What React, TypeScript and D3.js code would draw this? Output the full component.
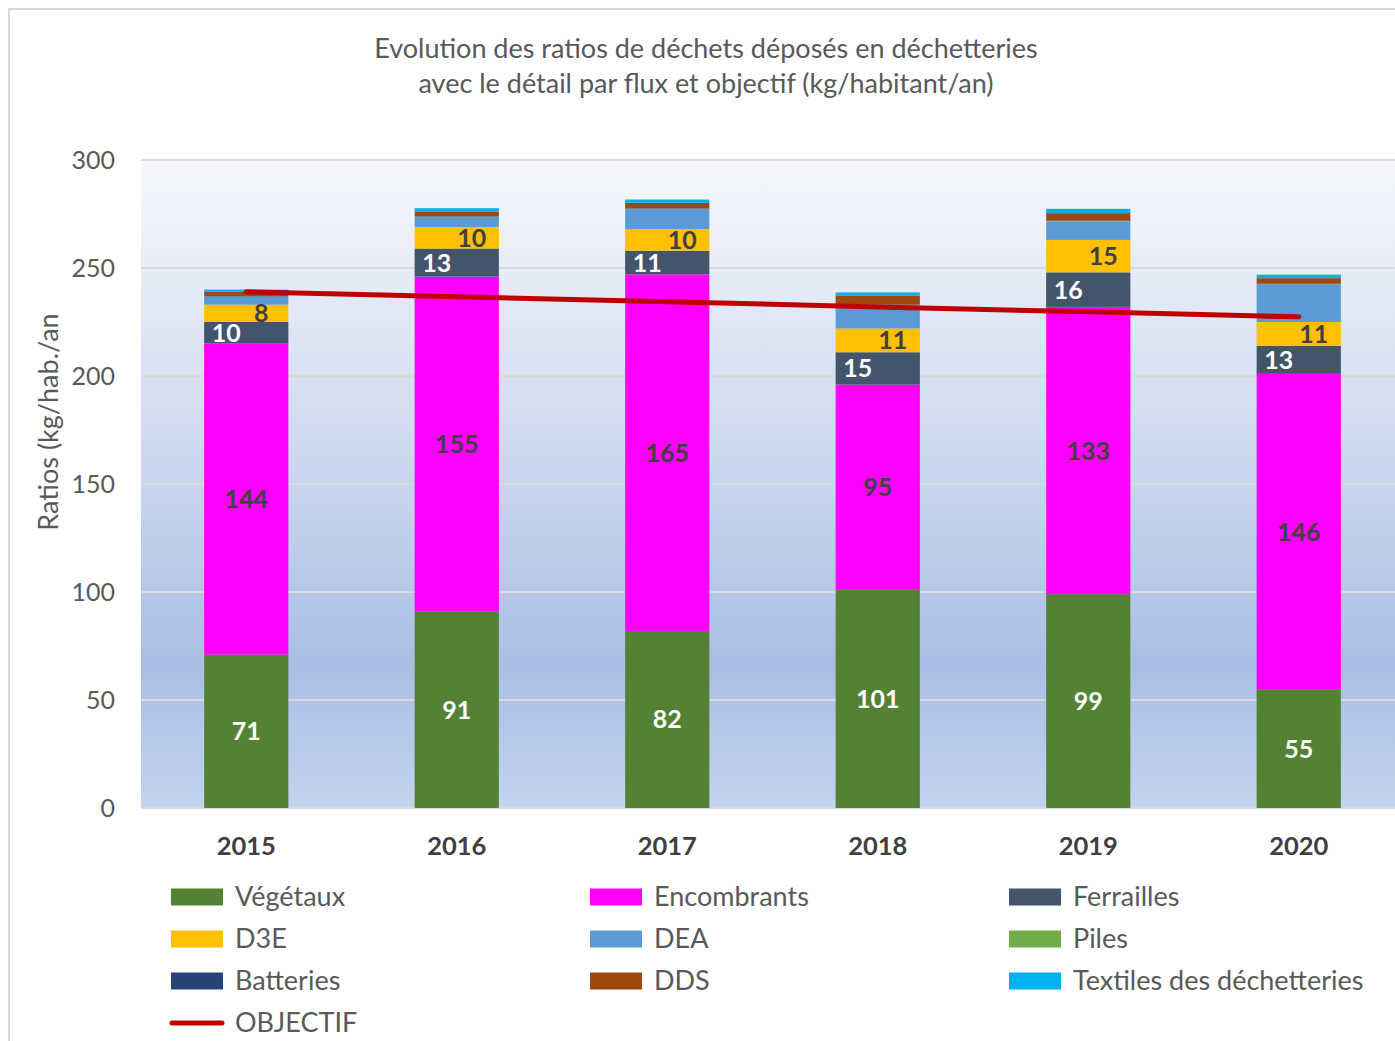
import React from "react";
import * as d3 from "d3";

const years = ["2015", "2016", "2017", "2018", "2019", "2020"];
const vegetaux = [71, 91, 82, 101, 99, 55];
const encombrants = [144, 155, 165, 95, 133, 146];
const ferrailles = [10, 13, 11, 15, 16, 13];
const d3e = [8, 10, 10, 11, 15, 11];
const dea = [3.7, 4.6, 9.3, 10.8, 8.5, 17.4];
const piles = [0.1, 0.1, 0.1, 0.1, 0.2, 0.1];
const batteries = [0.2, 0.2, 0.2, 0.2, 0.3, 0.2];
const dds = [2, 2.3, 2.6, 4.2, 3.4, 2.6];
const textiles = [1, 1.5, 1.5, 1.4, 2, 1.6];
const objectif = [239, 236.7, 234.4, 232.0, 229.7, 227.4];
const yTicks = [0, 50, 100, 150, 200, 250, 300];

const seriesNames = ["Végétaux", "Encombrants", "Ferrailles", "D3E", "DEA", "Piles", "Batteries", "DDS", "Textiles des déchetteries"];
const seriesValues = [vegetaux, encombrants, ferrailles, d3e, dea, piles, batteries, dds, textiles];
const seriesColors = ["#548235", "#ff00ff", "#44546a", "#ffc000", "#5b9bd5", "#70ad47", "#264478", "#9e480e", "#00b0f0"];

const FONT = "Lato, 'Open Sans', sans-serif";

export default function App() {
  const W = 1395, H = 1041;
  const x = d3.scaleBand().domain(years).range([141, 1404]).paddingInner(0.6).paddingOuter(0.3);
  const y = d3.scaleLinear().domain([0, 300]).range([808, 160]);

  const rows = years.map((yr, i) => {
    const r: any = { year: yr };
    seriesNames.forEach((n, k) => (r[n] = seriesValues[k][i]));
    return r;
  });
  const stacked = d3.stack().keys(seriesNames)(rows);

  const line = d3.line<number>()
    .x((_, i) => (x(years[i]) as number) + x.bandwidth() / 2)
    .y((d) => y(d));

  const labelCfg: Record<string, { color: string; dx: number }> = {
    "Végétaux": { color: "#ffffff", dx: 0 },
    "Encombrants": { color: "#404040", dx: 0 },
    "Ferrailles": { color: "#ffffff", dx: -20 },
    "D3E": { color: "#404040", dx: 15 },
  };

  const legendItems = [...seriesNames.map((n, k) => ({ name: n, color: seriesColors[k], line: false })), { name: "OBJECTIF", color: "#c00000", line: true }];
  const colX = [171, 590, 1009];
  const rowY = [897, 939, 981, 1023];

  return (
    <svg width={W} height={H} style={{ position: "absolute", left: 0, top: 0, display: "block" }} fontFamily={FONT}>
      <defs>
        <linearGradient id="bg" x1="0" y1="0" x2="0" y2="1">
          <stop offset="0" stopColor="#f6f8fc" />
          <stop offset="0.45" stopColor="#cdd9ef" />
          <stop offset="0.78" stopColor="#aabee5" />
          <stop offset="1" stopColor="#c3d3ef" />
        </linearGradient>
      </defs>
      <rect x={0} y={0} width={W} height={H} fill="#ffffff" />
      <rect x={9} y={9} width={W + 20} height={H + 20} fill="#ffffff" stroke="#d9d9d9" strokeWidth={2} />
      <text x={706} y={58} textAnchor="middle" fontSize={27} fill="#595959">Evolution des ratios de déchets déposés en déchetteries</text>
      <text x={706} y={93} textAnchor="middle" fontSize={27} fill="#595959">avec le détail par flux et objectif (kg/habitant/an)</text>

      <rect x={141} y={y(300)} width={1404 - 141} height={y(0) - y(300)} fill="url(#bg)" />
      {yTicks.map((t) => (
        <g key={t}>
          <line x1={141} x2={1404} y1={y(t)} y2={y(t)} stroke="#d9d9d9" strokeWidth={2} />
          <text x={115} y={y(t)} dy="0.35em" textAnchor="end" fontSize={25} fill="#595959">{t}</text>
        </g>
      ))}
      <text transform={`translate(58,422) rotate(-90)`} textAnchor="middle" fontSize={27} fill="#595959">Ratios (kg/hab./an</text>

      {stacked.map((s, k) => (
        <g key={s.key}>
          {s.map((d, i) => (
            <rect key={i} x={x(years[i])} width={x.bandwidth()} y={y(d[1])} height={Math.max(0, y(d[0]) - y(d[1]))} fill={seriesColors[k]} />
          ))}
        </g>
      ))}

      {stacked.filter((s) => labelCfg[s.key]).map((s) => (
        <g key={"l" + s.key}>
          {s.map((d, i) => (
            <text key={i} x={(x(years[i]) as number) + x.bandwidth() / 2 + labelCfg[s.key].dx} y={(y(d[0]) + y(d[1])) / 2} dy="0.36em" textAnchor="middle" fontSize={25} fontWeight="bold" fill={labelCfg[s.key].color}>
              {Math.round(d[1] - d[0])}
            </text>
          ))}
        </g>
      ))}

      <path d={line(objectif) || ""} fill="none" stroke="#c00000" strokeWidth={5} strokeLinecap="round" />

      {years.map((yr) => (
        <text key={yr} x={(x(yr) as number) + x.bandwidth() / 2} y={846} dy="0.35em" textAnchor="middle" fontSize={25.5} fontWeight="bold" fill="#404040">{yr}</text>
      ))}

      {legendItems.map((it, i) => {
        const cx = colX[i % 3];
        const cy = rowY[Math.floor(i / 3)];
        return (
          <g key={it.name}>
            {it.line ? (
              <line x1={cx + 1} x2={cx + 51} y1={cy} y2={cy} stroke={it.color} strokeWidth={5} strokeLinecap="round" />
            ) : (
              <rect x={cx} y={cy - 8.5} width={52} height={17} fill={it.color} />
            )}
            <text x={cx + 64} y={cy} dy="0.35em" fontSize={27} fill="#595959">{it.name}</text>
          </g>
        );
      })}
    </svg>
  );
}
